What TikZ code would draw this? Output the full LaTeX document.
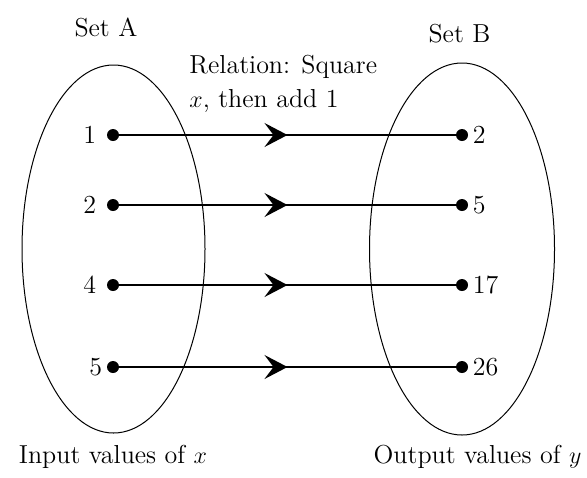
\documentclass[tikz,border=0pt]{standalone}
\usepackage{tikz}
\usetikzlibrary{arrows.meta,positioning,decorations.markings}
\tikzset{
  setoval/.style={draw=black,line width=0.5pt},
  dot/.style={circle,fill=black,inner sep=0pt,minimum size=6pt},
  lbl/.style={inner sep=0pt,font=\fontsize{13}{17}\selectfont},
  maparr/.style={line width=0.7pt,
    decoration={markings,mark=at position 0.5 with
      {\arrow{Stealth[length=11.5pt,width=12pt,inset=4.5pt]}}},
    postaction={decorate}}
}
\begin{document}
\begin{tikzpicture}[x=0.5pt,y=-0.5pt]
    \path[use as bounding box] (0,0) rectangle (587,477);
    % the two sets
    \draw[setoval] (113.5,249) ellipse [x radius=91.5,y radius=184];
    \draw[setoval] (462,249) ellipse [x radius=92.5,y radius=186];
    \node[lbl,anchor=base] (setA) at (106,36) {Set A};
    \node[lbl,anchor=base] (setB) at (459.5,42) {Set B};

    % inputs
    \node[dot] (a1) at (113,135) {};
    \node[dot] (a2) at (113,205) {};
    \node[dot] (a3) at (113,285) {};
    \node[dot] (a4) at (113,367) {};
    \node[lbl,left=5pt of a1] (in1) {1};
    \node[lbl,left=5pt of a2] (in2) {2};
    \node[lbl,left=5pt of a3] (in3) {4};
    \node[lbl,left=2pt of a4] (in4) {5};

    % outputs
    \node[dot] (b1) at (462,135) {};
    \node[dot] (b2) at (462,205) {};
    \node[dot] (b3) at (462,285) {};
    \node[dot] (b4) at (462,367) {};
    \node[lbl,right=2pt of b1] (out1) {2};
    \node[lbl,right=2pt of b2] (out2) {5};
    \node[lbl,right=2pt of b3] (out3) {17};
    \node[lbl,right=2pt of b4] (out4) {26};

    \draw[maparr] (a1) -- (b1);
    \draw[maparr] (a2) -- (b2);
    \draw[maparr] (a3) -- (b3);
    \draw[maparr] (a4) -- (b4);

    \node[lbl,anchor=base west,align=left] (rule) at (189,107)
      {Relation: Square\\$x$, then add 1};
    \node[lbl,anchor=base] (inlbl) at (113,463) {Input values of $x$};
    \node[lbl,anchor=base] (outlbl) at (477.5,463) {Output values of $y$};
  \end{tikzpicture}
\end{document}
